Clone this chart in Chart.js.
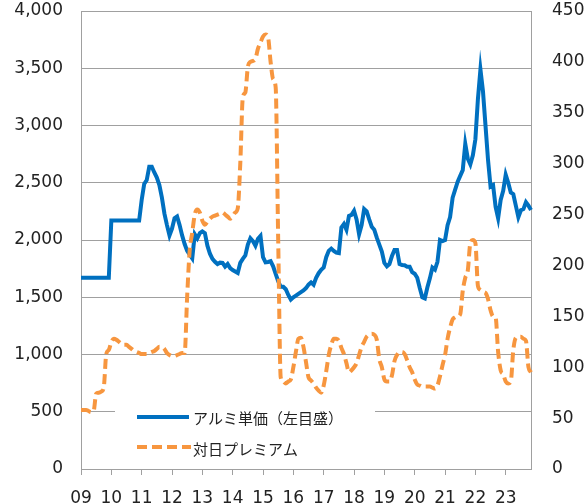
<!DOCTYPE html>
<html>
<head>
<meta charset="utf-8">
<script src="https://cdn.jsdelivr.net/npm/chart.js@4/dist/chart.umd.min.js"></script>
<style>
  html, body { margin: 0; padding: 0; background: #fff; }
  #wrap { width: 584px; height: 504px; }
</style>
</head>
<body>
<div id="wrap"><canvas id="chart" width="584" height="504"></canvas></div>
<script>
// ── データ（2009年1月〜2023年11月、月次） ──
const YEAR_LABELS = ['09','10','11','12','13','14','15','16','17','18','19','20','21','22','23'];

// アルミ単価（左目盛）
const ALU_PRICE = [
  1670,1670,1670,1670,1670,1670,1670,1670,1670,1670,1670,1670,
  2170,2170,2170,2170,2170,2170,2170,2170,2170,2170,2170,2170,
  2350,2490,2524,2640,2640,2590,2545,2480,2370,2230,2130,2040,
  2100,2190,2205,2130,2040,1965,1905,1872,1840,2050,2015,2060,
  2075,2060,1950,1880,1835,1810,1790,1802,1800,1768,1790,1755,
  1738,1725,1712,1800,1835,1865,1960,2015,1990,1950,2010,2035,
  1850,1805,1808,1815,1770,1705,1640,1592,1592,1570,1520,1480,
  1500,1515,1530,1545,1560,1580,1610,1630,1610,1670,1710,1740,
  1760,1850,1905,1925,1905,1890,1885,2110,2140,2090,2210,2220,
  2255,2180,2050,2130,2270,2250,2180,2116,2090,2020,1960,1900,
  1800,1770,1790,1860,1913,1913,1790,1782,1780,1767,1767,1720,
  1705,1670,1580,1500,1490,1585,1665,1760,1742,1810,2000,1990,
  2000,2130,2200,2370,2440,2510,2560,2610,2840,2710,2660,2740,
  2880,3230,3490,3300,3000,2700,2466,2480,2290,2190,2350,2430,
  2570,2500,2415,2400,2300,2200,2260,2270,2330,2300,2262
];

// 対日プレミアム（右目盛）
const JP_PREMIUM = [
  58,58,58,57,56,57,74,75,76,80,113,117,
  125,128,127,125,123,122,122,120,118,116,115,114,
  113,113,113,114,115,116,118,120,120,118,114,112,
  111,111,112,113,114,114,170,215,232,250,255,252,
  244,240,243,246,248,249,250,251,252,250,248,246,
  248,252,256,300,365,370,395,400,401,403,413,419,
  425,427,424,400,383,375,225,90,86,84,86,88,
  100,115,128,129,120,105,90,87,84,80,77,75,
  82,96,112,122,128,128,126,119,113,104,95,97,
  100,104,112,120,125,130,132,133,132,127,108,100,
  88,86,86,92,106,112,115,115,113,107,100,95,
  88,83,82,81,81,81,81,80,79,82,91,102,
  112,128,139,147,149,150,152,175,188,195,222,225,
  222,180,176,174,173,167,156,150,149,115,97,93,
  86,84,86,117,129,130,130,128,126,100,95
];

const LEFT_TICKS = { min: 0, max: 4000, step: 500 };
const RIGHT_TICKS = { min: 0, max: 450, step: 50 };

// 月ラベル（カテゴリ）
const MONTHS = [];
YEAR_LABELS.forEach(y => {
  for (let m = 1; m <= 12; m++) MONTHS.push('20' + y + '/' + String(m).padStart(2, '0'));
});
MONTHS.length = ALU_PRICE.length;

const BLUE   = '#0070c0';
const ORANGE = '#f7963f';
const GRID   = '#a0a0a0';
const TEXT   = '#222';
const NUM_FONT = { family: '"DejaVu Sans", Verdana, sans-serif', size: 17 };

// 縦軸の上下余白はレイアウト側で決める
function fixVertical(width) {
  return s => { s.width = width; s.paddingTop = 0; s.paddingBottom = 0; };
}

// ── 凡例（プロット内） ──
const innerLegend = {
  id: 'innerLegend',
  afterDraw(chart) {
    const ctx = chart.ctx;
    ctx.save();
    ctx.fillStyle = '#fff';
    ctx.fillRect(115, 398, 260, 66);

    ctx.lineWidth = 4;
    ctx.strokeStyle = BLUE;
    ctx.beginPath();
    ctx.moveTo(137, 417); ctx.lineTo(189, 417);
    ctx.stroke();

    ctx.strokeStyle = ORANGE;
    ctx.setLineDash([10, 5]);
    ctx.beginPath();
    ctx.moveTo(137, 447); ctx.lineTo(191, 447);
    ctx.stroke();
    ctx.setLineDash([]);

    ctx.fillStyle = TEXT;
    ctx.font = '15px "Noto Sans CJK JP", sans-serif';
    ctx.textBaseline = 'middle';
    ctx.fillText('アルミ単価（左目盛）', 193, 418);
    ctx.fillText('対日プレミアム', 193, 449);
    ctx.restore();
  }
};

new Chart(document.getElementById('chart'), {
  type: 'line',
  data: {
    labels: MONTHS,
    datasets: [
      {
        label: 'アルミ単価（左目盛）',
        data: ALU_PRICE,
        yAxisID: 'y',
        borderColor: BLUE,
        borderWidth: 4,
        pointRadius: 0,
        tension: 0,
        order: 2,
      },
      {
        label: '対日プレミアム',
        data: JP_PREMIUM,
        yAxisID: 'y2',
        borderColor: ORANGE,
        borderWidth: 4,
        borderDash: [10, 5],
        pointRadius: 0,
        cubicInterpolationMode: 'monotone',
        order: 1,
      }
    ]
  },
  options: {
    responsive: false,
    animation: false,
    devicePixelRatio: 1,
    layout: { padding: { top: 11, left: 0, right: 0, bottom: 0 } },
    plugins: {
      legend: { display: false },
      tooltip: { enabled: false },
    },
    scales: {
      x: {
        type: 'category',
        afterFit: s => { s.height = 35; s.paddingLeft = 0; s.paddingRight = 0; },
        grid: {
          drawOnChartArea: false,
          tickLength: 6,
          color: c => (c.index % 12 === 0 ? GRID : 'rgba(0,0,0,0)'),
        },
        border: { color: GRID },
        ticks: {
          autoSkip: false,
          maxRotation: 0,
          minRotation: 0,
          padding: 13,
          color: TEXT,
          font: NUM_FONT,
          callback: (v, i) => (i % 12 === 0 ? YEAR_LABELS[i / 12] : ''),
        }
      },
      y: {
        position: 'left',
        min: LEFT_TICKS.min, max: LEFT_TICKS.max,
        afterFit: fixVertical(81),
        grid: { color: GRID, drawTicks: false },
        border: { color: GRID },
        ticks: {
          stepSize: LEFT_TICKS.step,
          padding: 18,
          color: TEXT,
          font: NUM_FONT,
          callback: v => v.toLocaleString('en-US'),
        }
      },
      y2: {
        position: 'right',
        min: RIGHT_TICKS.min, max: RIGHT_TICKS.max,
        afterFit: fixVertical(53),
        grid: { drawOnChartArea: false, drawTicks: false },
        border: { color: GRID },
        ticks: {
          stepSize: RIGHT_TICKS.step,
          padding: 21,
          color: TEXT,
          font: NUM_FONT,
        }
      }
    }
  },
  plugins: [innerLegend]
});
</script>
</body>
</html>
